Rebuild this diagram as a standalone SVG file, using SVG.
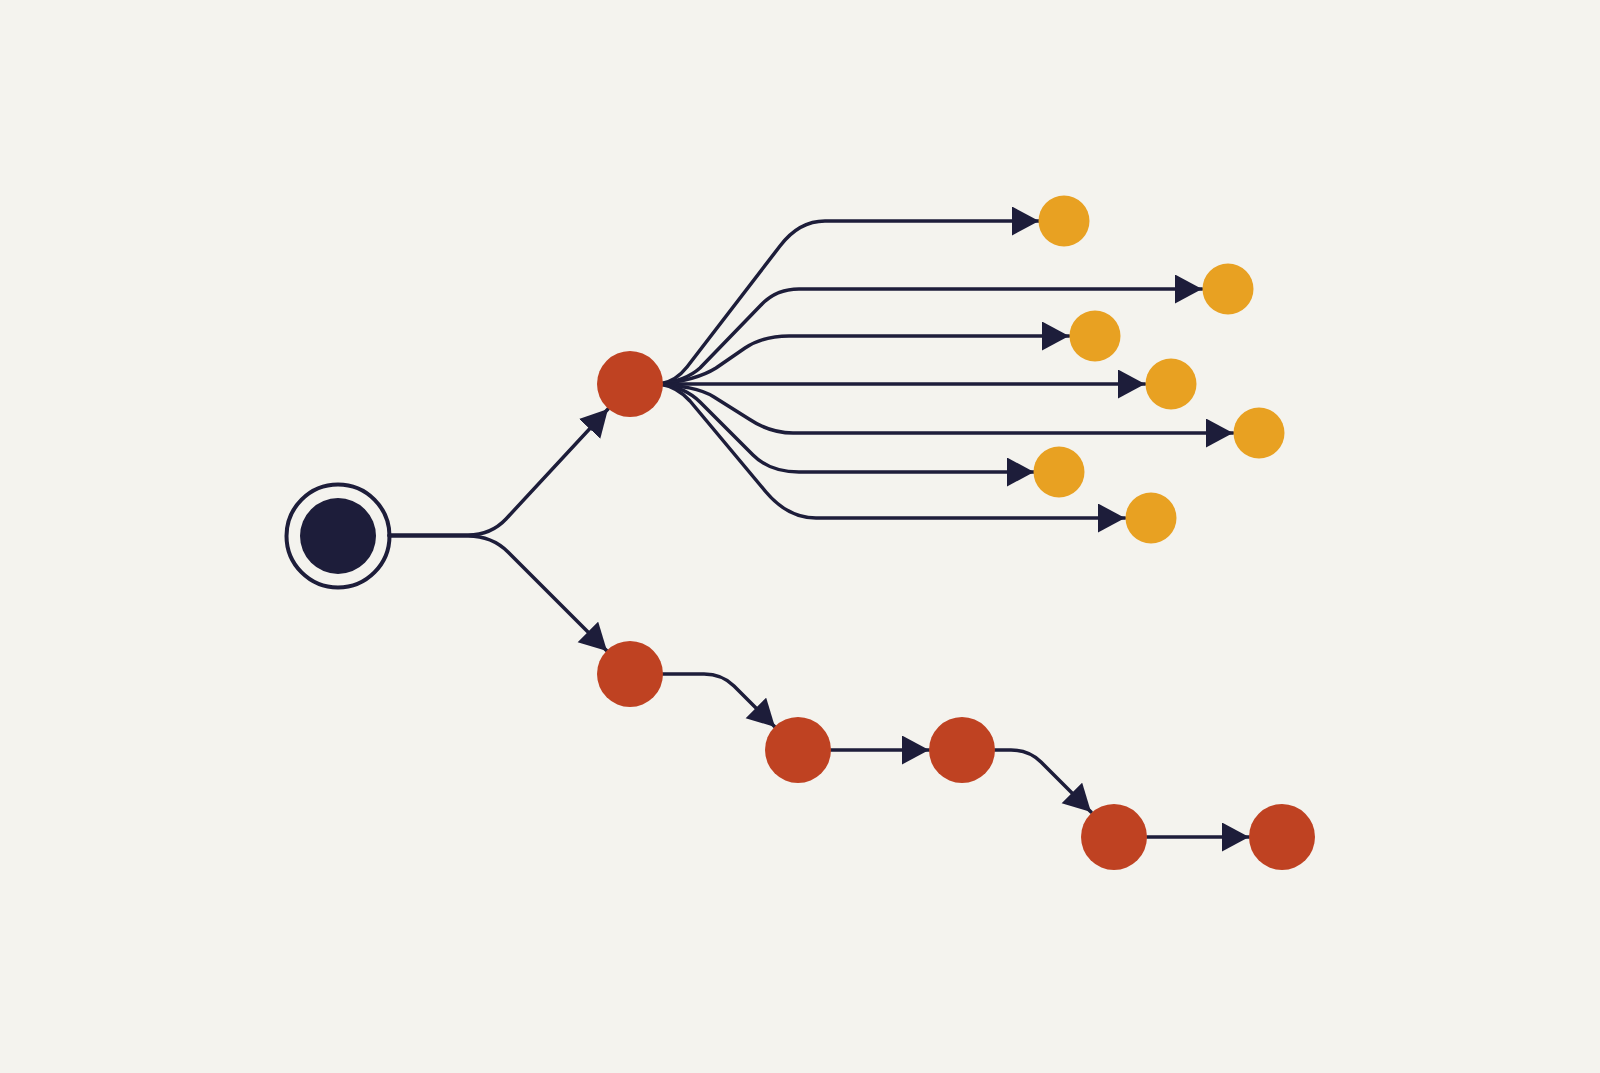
<svg xmlns="http://www.w3.org/2000/svg" width="1600" height="1073" viewBox="0 0 1600 1073">
<defs>
<marker id="ah" markerUnits="userSpaceOnUse" markerWidth="28" markerHeight="30" refX="27" refY="14.5" orient="auto">
<path d="M0,0 L27,14.5 L0,29 Z" fill="#1d1d3a"/>
</marker>
</defs>
<style>
.bg{fill:#f4f3ee}
.c{fill:none;stroke:#1d1d3a;stroke-width:3.5;stroke-linejoin:round;stroke-linecap:round}
.a{marker-end:url(#ah)}
.red{fill:#bf4222}
.yel{fill:#e8a122}
.dark{fill:#1d1d3a}
.ring{fill:none;stroke:#1d1d3a;stroke-width:4}
</style>
<rect class="bg" x="0" y="0" width="1600" height="1073"/>
<g id="connectors">
<path class="c a" d="M389,535 L468,535 Q491,535 506,519 L608,409"/>
<path class="c a" d="M389,536 L468,536 Q492,536 508,552 L607,651"/>
<path class="c a" d="M660,384 C672,382 680,376 687,367 L780,246 Q799,221 825,221 L1039,221"/>
<path class="c a" d="M660,384 C675,382 690,377 700,368 L761,305 Q776,289 799,289 L1202,289"/>
<path class="c a" d="M660,384 C680,382 700,378 716,368 L745,348 Q763,336 789,336 L1069,336"/>
<path class="c a" d="M660,384 L1145,384"/>
<path class="c a" d="M660,384 C680,386 700,388 714,397 L749,419 Q770,433 793,433 L1233,433"/>
<path class="c a" d="M660,384 C675,386 690,392 700,402 L753,455 Q770,472 799,472 L1034,472"/>
<path class="c a" d="M660,384 C672,386 682,392 690,401 L766,492 Q788,518 816,518 L1125,518"/>
<path class="c a" d="M663,674 L704,674 Q722,674 734,686 L775,727"/>
<path class="c a" d="M831,750 L929,750"/>
<path class="c a" d="M995,750 L1011,750 Q1029,750 1041,762 L1091,812"/>
<path class="c a" d="M1147,837 L1249,837"/>
</g>
<g id="start"><circle class="ring" cx="338" cy="536" r="51.5"/><circle class="dark" cx="338" cy="536" r="38"/></g>
<g id="r1"><circle class="red" cx="630" cy="384" r="33"/></g>
<g id="r2"><circle class="red" cx="630" cy="674" r="33"/></g>
<g id="r3"><circle class="red" cx="798" cy="750" r="33"/></g>
<g id="r4"><circle class="red" cx="962" cy="750" r="33"/></g>
<g id="r5"><circle class="red" cx="1114" cy="837" r="33"/></g>
<g id="r6"><circle class="red" cx="1282" cy="837" r="33"/></g>
<g id="y1"><circle class="yel" cx="1064" cy="221" r="25.5"/></g>
<g id="y2"><circle class="yel" cx="1228" cy="289" r="25.5"/></g>
<g id="y3"><circle class="yel" cx="1095" cy="336" r="25.5"/></g>
<g id="y4"><circle class="yel" cx="1171" cy="384" r="25.5"/></g>
<g id="y5"><circle class="yel" cx="1259" cy="433" r="25.5"/></g>
<g id="y6"><circle class="yel" cx="1059" cy="472" r="25.5"/></g>
<g id="y7"><circle class="yel" cx="1151" cy="518" r="25.5"/></g>
</svg>
